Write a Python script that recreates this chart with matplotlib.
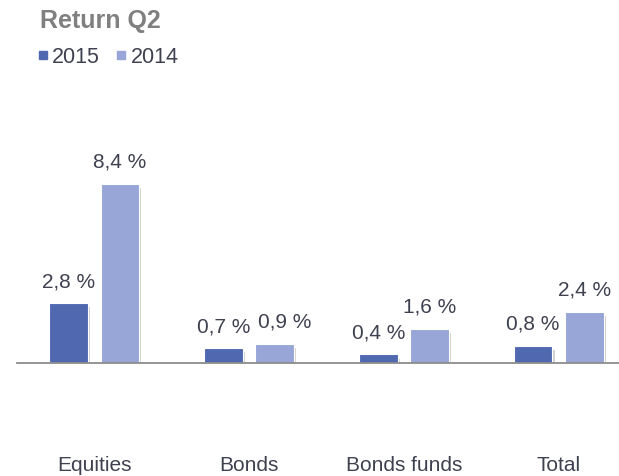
import matplotlib
matplotlib.use("Agg")
import matplotlib.pyplot as plt
from matplotlib.lines import Line2D
import matplotlib.patheffects as pe
import numpy as np

categories = ["Equities", "Bonds", "Bonds funds", "Total"]
series_names = ["2015", "2014"]
values_2015 = [2.8, 0.7, 0.4, 0.8]
values_2014 = [8.4, 0.9, 1.6, 2.4]
labels_2015 = ["2,8 %", "0,7 %", "0,4 %", "0,8 %"]
labels_2014 = ["8,4 %", "0,9 %", "1,6 %", "2,4 %"]

c2015 = "#4F68B0"
c2014 = "#97A6D7"
text_color = "#3F4150"

plt.rcParams['font.family'] = ['Liberation Sans', 'DejaVu Sans']

W, H = 619, 476
fig = plt.figure(figsize=(W / 100, H / 100), dpi=100)
# axes: x from 17 to 619 px, y from 100 to 363 px
ax = fig.add_axes([17 / W, 1 - 363 / H, (619 - 17) / W, (363 - 100) / H])

x = np.arange(len(categories))
bw = 0.25
off = 0.165
shadow = [pe.SimplePatchShadow(offset=(1.5, -3), shadow_rgbFace="#000000", alpha=0.18), pe.Normal()]
b1 = ax.bar(x - off, values_2015, bw, color=c2015, edgecolor="white", linewidth=0.8, zorder=2)
b2 = ax.bar(x + off, values_2014, bw, color=c2014, edgecolor="white", linewidth=0.8, zorder=2)
for b in list(b1) + list(b2):
    b.set_path_effects(shadow)

for xi, v, lab in zip(x - off, values_2015, labels_2015):
    ax.annotate(lab, (xi, v), xytext=(0, 11.5), textcoords="offset points",
                ha="center", va="baseline", fontsize=15, color=text_color)
for i, (xi, v, lab) in enumerate(zip(x + off, values_2014, labels_2014)):
    dx = 7 if i == 1 else 0  # nudge to avoid overlapping neighbour label
    ax.annotate(lab, (xi, v), xytext=(dx, 11.5), textcoords="offset points",
                ha="center", va="baseline", fontsize=15, color=text_color)

ax.set_xlim(-0.5, 3.39)
ax.set_ylim(0, (363 - 100) / 21.35)
for s in ["top", "right", "left"]:
    ax.spines[s].set_visible(False)
ax.spines["bottom"].set_color("#8C8C8C")
ax.spines["bottom"].set_linewidth(1.3)
ax.spines["bottom"].set_zorder(3)
ax.set_yticks([])
ax.set_xticks(x)
ax.set_xticklabels(categories, fontsize=15, color=text_color)
ax.tick_params(axis="x", length=0, pad=67)

fig.text(40 / W, 1 - 9 / H, "Return Q2", fontsize=18, fontweight="bold",
         color="#808080", ha="left", va="top")

handles = [Line2D([], [], marker="s", linestyle="none", markersize=6, color=c2015),
           Line2D([], [], marker="s", linestyle="none", markersize=6, color=c2014)]
fig.legend(handles, series_names, loc="upper left", bbox_to_anchor=(34 / W, 1 - 47 / H),
           ncol=2, frameon=False, handletextpad=0.05, columnspacing=0.58, handlelength=0.8,
           borderaxespad=0, borderpad=0, prop={"size": 15.5}, labelcolor=text_color)

fig.savefig("out.png", dpi=100)
